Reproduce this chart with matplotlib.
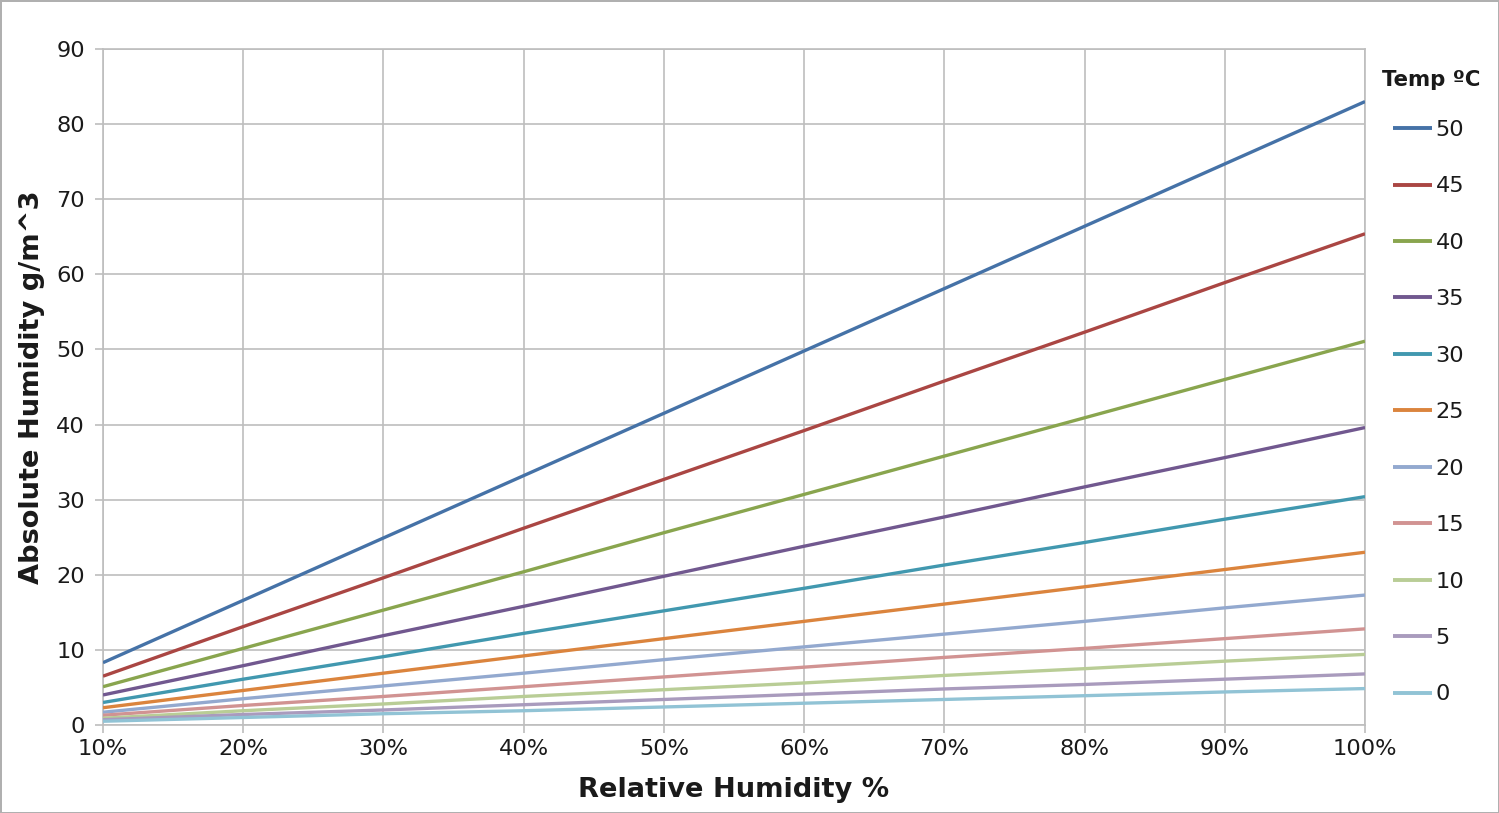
import matplotlib
matplotlib.use("Agg")
import matplotlib.pyplot as plt

rh_labels = ["10%", "20%", "30%", "40%", "50%", "60%", "70%", "80%", "90%", "100%"]
rh_values = [10, 20, 30, 40, 50, 60, 70, 80, 90, 100]

temps = ["50", "45", "40", "35", "30", "25", "20", "15", "10", "5", "0"]

ah_50 = [8.3, 16.6, 24.9, 33.2, 41.5, 49.8, 58.1, 66.4, 74.7, 83.0]
ah_45 = [6.5, 13.1, 19.6, 26.2, 32.7, 39.2, 45.8, 52.3, 58.9, 65.4]
ah_40 = [5.1, 10.2, 15.3, 20.4, 25.6, 30.7, 35.8, 40.9, 46.0, 51.1]
ah_35 = [4.0, 7.9, 11.9, 15.8, 19.8, 23.8, 27.7, 31.7, 35.6, 39.6]
ah_30 = [3.0, 6.1, 9.1, 12.2, 15.2, 18.2, 21.3, 24.3, 27.4, 30.4]
ah_25 = [2.3, 4.6, 6.9, 9.2, 11.5, 13.8, 16.1, 18.4, 20.7, 23.0]
ah_20 = [1.7, 3.5, 5.2, 6.9, 8.7, 10.4, 12.1, 13.8, 15.6, 17.3]
ah_15 = [1.3, 2.6, 3.8, 5.1, 6.4, 7.7, 9.0, 10.2, 11.5, 12.8]
ah_10 = [0.9, 1.9, 2.8, 3.8, 4.7, 5.6, 6.6, 7.5, 8.5, 9.4]
ah_5 = [0.7, 1.4, 2.0, 2.7, 3.4, 4.1, 4.8, 5.4, 6.1, 6.8]
ah_0 = [0.5, 1.0, 1.5, 1.9, 2.4, 2.9, 3.4, 3.9, 4.4, 4.85]

series = [ah_50, ah_45, ah_40, ah_35, ah_30, ah_25, ah_20, ah_15, ah_10, ah_5, ah_0]
colors = ["#4572A7", "#AA4643", "#89A54E", "#71588F", "#4198AF", "#DB843D",
          "#93A9CF", "#D19392", "#B9CD96", "#A99BBD", "#91C3D5"]

plt.rcParams['font.family'] = ['DejaVu Sans']

fig = plt.figure(figsize=(14.99, 8.13), dpi=100)
fig.patch.set_facecolor("white")
fig.patch.set_edgecolor("#B0B0B0")
fig.patch.set_linewidth(2)

ax = fig.add_axes([103/1499, 1-725/813, (1365-103)/1499, (725-49)/813])

grid_c = "#BEBEBE"
text_c = "#1a1a1a"
for vals, c, t in zip(series, colors, temps):
    ax.plot(rh_values, vals, color=c, lw=2.4, label=t, solid_capstyle="butt", zorder=3)

ax.set_xlim(10, 100)
ax.set_ylim(0, 90)
ax.set_xticks(rh_values)
ax.set_xticklabels(rh_labels)
ax.set_yticks(range(0, 91, 10))
ax.grid(True, color=grid_c, lw=1.2, zorder=0)
for s in ax.spines.values():
    s.set_color(grid_c)
    s.set_linewidth(1.2)
ax.tick_params(axis="both", colors=grid_c, labelcolor=text_c, labelsize=16.2,
               length=6, width=1.2, direction="out")
ax.tick_params(axis="y", pad=7)
ax.tick_params(axis="x", pad=4)

ax.set_xlabel("Relative Humidity %", fontsize=19.6, fontweight="bold", color=text_c, labelpad=13)
ax.set_ylabel("Absolute Humidity g/m^3", fontsize=19.6, fontweight="bold", color=text_c, labelpad=8)

fig.text(1382/1499, 1-80/813, "Temp ºC", fontsize=15.3, fontweight="bold",
         color=text_c, ha="left", va="center")

leg = ax.legend(loc="upper left", bbox_to_anchor=(1393/1499, 1-120/813),
                bbox_transform=fig.transFigure, frameon=False,
                fontsize=16.2, handlelength=1.75, handletextpad=0.15,
                labelspacing=1.62, borderaxespad=0, borderpad=0)
for txt in leg.get_texts():
    txt.set_color(text_c)
for line in leg.get_lines():
    line.set_linewidth(2.8)

fig.savefig("out.png", dpi=100, facecolor=fig.get_facecolor(), edgecolor=fig.get_edgecolor())
